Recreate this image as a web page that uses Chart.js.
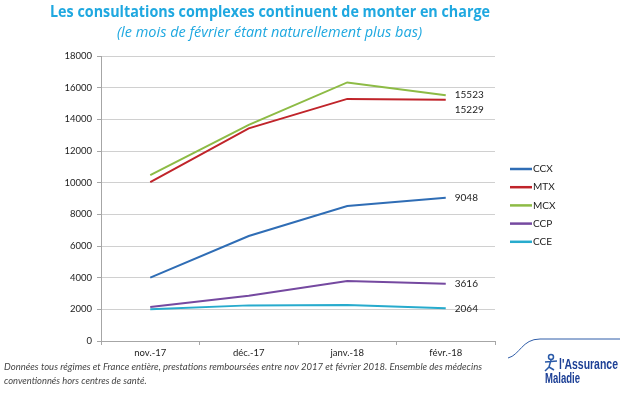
<!DOCTYPE html>
<html><head><meta charset="utf-8">
<script src="https://cdn.jsdelivr.net/npm/chart.js@4.4.1/dist/chart.umd.min.js"></script>
<style>html,body{margin:0;padding:0;background:#fff;}#wrap{width:620px;height:393px;position:relative;}</style>
</head><body><div id="wrap"><canvas id="c" width="620" height="393"></canvas></div>
<script>
const categories = ['nov.-17', 'déc.-17', 'janv.-18', 'févr.-18'];
const seriesNames = ['CCX', 'MTX', 'MCX', 'CCP', 'CCE'];
const CCX = [4000, 6630, 8520, 9048];
const MTX = [10030, 13430, 15290, 15229];
const MCX = [10470, 13650, 16330, 15523];
const CCP = [2150, 2860, 3790, 3616];
const CCE = [2000, 2250, 2280, 2064];
const yTicks = [0, 2000, 4000, 6000, 8000, 10000, 12000, 14000, 16000, 18000];
const endLabels = ['15523', '15229', '9048', '3616', '2064'];
const colors = ['#2f6db5', '#c0242a', '#8dbb45', '#7549a0', '#27abcd'];
const values = [CCX, MTX, MCX, CCP, CCE];
const labelOrderSeries = [2, 1, 0, 3, 4];
const labelDy = [0, 10, 0, 0, 0];

function fitText(ctx, text, x, y, w) {
  const m = ctx.measureText(text).width;
  ctx.save();
  ctx.translate(x, y);
  ctx.scale(w / m, 1);
  ctx.fillText(text, 0, 0);
  ctx.restore();
}

const decor = {
  id: 'decor',
  afterDraw(chart) {
    const ctx = chart.ctx;
    ctx.save();
    // title
    ctx.textAlign = 'left'; ctx.textBaseline = 'middle';
    ctx.fillStyle = '#1fa8e0';
    ctx.font = 'bold 16.5px "Open Sans"';
    fitText(ctx, 'Les consultations complexes continuent de monter en charge', 50, 12.5, 440);
    ctx.font = 'italic 14.5px "Open Sans"';
    fitText(ctx, '(le mois de février étant naturellement plus bas)', 117, 33, 305);
    // end labels
    ctx.fillStyle = '#222';
    ctx.font = '10px Lato';
    labelOrderSeries.forEach((si, k) => {
      const meta = chart.getDatasetMeta(si);
      const pt = meta.data[meta.data.length - 1];
      ctx.fillText(endLabels[k], pt.x + 9, pt.y + labelDy[k]);
    });
    // legend
    chart.data.datasets.forEach((ds, i) => {
      const y = 169 + i * 18.2;
      ctx.strokeStyle = ds.borderColor; ctx.lineWidth = 2.5;
      ctx.beginPath(); ctx.moveTo(510, y); ctx.lineTo(532, y); ctx.stroke();
      ctx.fillStyle = '#222'; ctx.font = '10px Lato';
      ctx.fillText(ds.label, 533, y);
    });
    // footnote
    ctx.fillStyle = '#444';
    ctx.font = 'italic 9.4px Lato';
    fitText(ctx, 'Données tous régimes et France entière, prestations remboursées entre nov 2017 et février 2018. Ensemble des médecins', 4, 367, 478);
    ctx.fillText('conventionnés hors centres de santé.', 4, 381);
    // logo
    ctx.strokeStyle = '#2f5da8'; ctx.lineWidth = 1;
    ctx.beginPath(); ctx.moveTo(508, 358);
    ctx.bezierCurveTo(520, 355, 522, 339, 540, 339);
    ctx.lineTo(620, 339); ctx.stroke();
    ctx.fillStyle = '#1c3f95';
    ctx.font = 'bold 15px "Liberation Sans"';
    fitText(ctx, "l'Assurance", 559, 365, 59);
    fitText(ctx, 'Maladie', 545, 379, 35);
    ctx.strokeStyle = '#2a5aa8'; ctx.lineWidth = 1.5;
    ctx.beginPath();
    ctx.arc(551, 357, 2.5, 0, Math.PI * 2);
    ctx.moveTo(551, 360); ctx.lineTo(549, 367); ctx.lineTo(545, 371);
    ctx.moveTo(549, 367); ctx.lineTo(554, 370);
    ctx.moveTo(545, 362); ctx.lineTo(557, 361);
    ctx.stroke();
    ctx.restore();
  }
};

new Chart(document.getElementById('c'), {
  type: 'line',
  data: {
    labels: categories,
    datasets: seriesNames.map((n, i) => ({
      label: n, data: values[i], borderColor: colors[i], backgroundColor: colors[i],
      borderWidth: 2, pointRadius: 0, tension: 0, fill: false
    }))
  },
  options: {
    responsive: false, animation: false,
    layout: { padding: { left: 0, right: 125, top: 56, bottom: 0 } },
    plugins: { legend: { display: false }, tooltip: { enabled: false }, title: { display: false } },
    scales: {
      x: {
        offset: true,
        grid: { offset: true, drawOnChartArea: false, drawTicks: true, tickLength: 4, color: '#a6a6a6' },
        border: { color: '#a6a6a6' },
        ticks: { color: '#222', font: { family: 'Lato', size: 9.5 }, padding: 2, maxRotation: 0 },
        afterFit(s) { s.height = 52; }
      },
      y: {
        min: 0, max: 18000,
        afterBuildTicks(s) { s.ticks = yTicks.map(v => ({ value: v })); },
        grid: { color: '#d0d0d0', lineWidth: 1, tickLength: 4, tickColor: '#a6a6a6' },
        border: { color: '#a6a6a6' },
        ticks: { color: '#222', font: { family: 'Lato', size: 9.5 }, padding: 5, callback: v => String(v) },
        afterFit(s) { s.width = 101; }
      }
    }
  },
  plugins: [decor]
});
</script></body></html>
